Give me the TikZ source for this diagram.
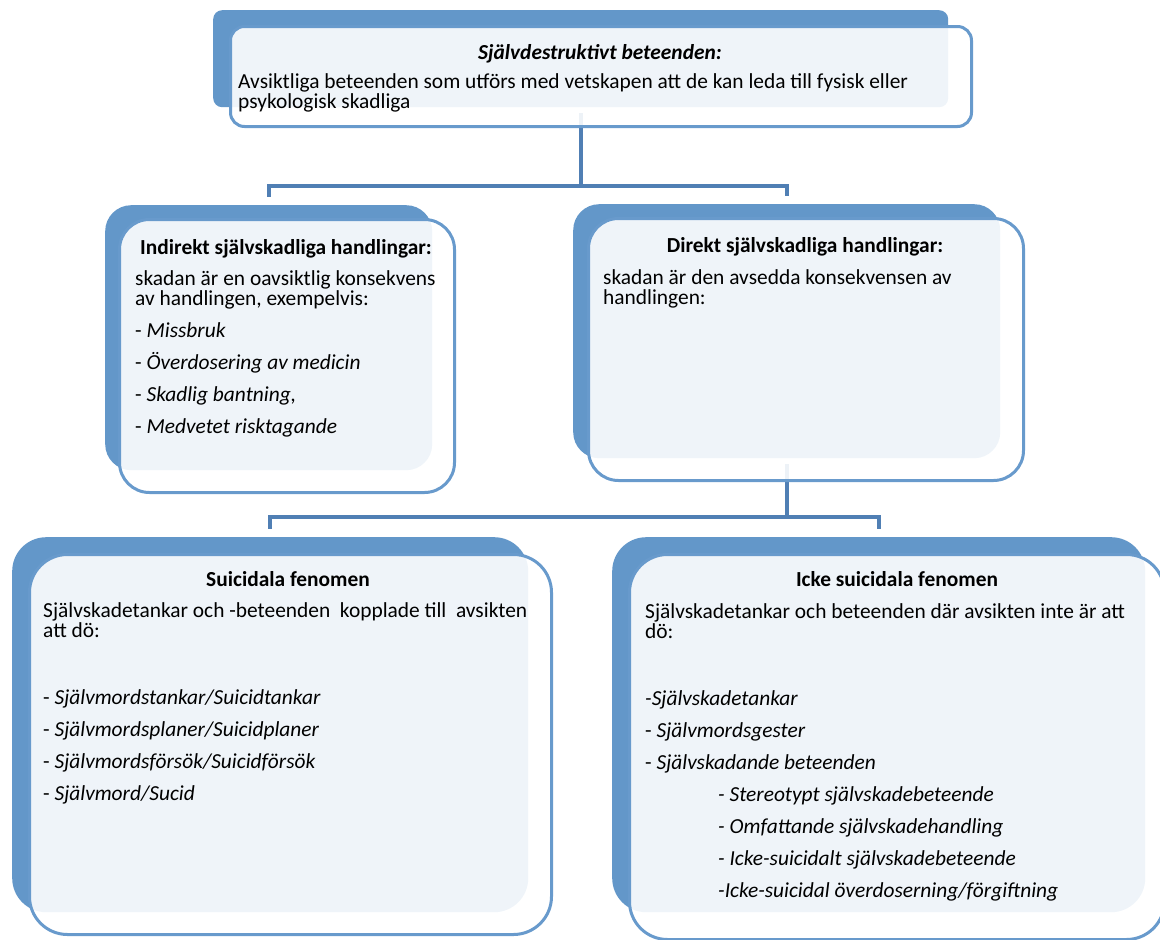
\documentclass[tikz,border=0pt]{standalone}
\usepackage{fontspec}
\setmainfont{Carlito}
\usetikzlibrary{positioning, calc}
\definecolor{backblue}{RGB}{99,151,201}
\definecolor{frameblue}{RGB}{104,154,204}
\definecolor{linkblue}{RGB}{80,127,180}
\setlength{\lineskiplimit}{-50pt}

\begin{document}
\begin{tikzpicture}[x=1pt, y=-1pt,
    backbox/.style={rectangle, fill=backblue, anchor=north west, inner sep=0pt},
    frontbox/.style={rectangle, draw=frameblue, line width=3pt, fill=white, fill opacity=0.9, draw opacity=1, anchor=north west, inner sep=0pt},
    link/.style={draw=linkblue, line width=4pt},
    title/.style={anchor=base, inner sep=0pt, font=\fontsize{21.4}{20.5}\selectfont\bfseries},
    body/.style={anchor=base west, inner sep=0pt, font=\fontsize{21.4}{20.5}\selectfont}
]
    \useasboundingbox (0,0) rectangle (1160,940);

    % Back shapes
    \node[backbox, rounded corners=9pt, minimum width=735pt, minimum height=97pt] (topback) at (213,10) {};
    \node[backbox, rounded corners=26pt, minimum width=327pt, minimum height=265pt] (indback) at (105,205) {};
    \node[backbox, rounded corners=26pt, minimum width=427pt, minimum height=254pt] (dirback) at (573,204) {};
    \node[backbox, rounded corners=34pt, minimum width=516pt, minimum height=375pt] (suiback) at (12,537) {};
    \node[backbox, rounded corners=34pt, minimum width=533pt, minimum height=375pt] (ickeback) at (612,537) {};

    % Connectors
    \draw[link] ([yshift=-6pt]topback.south) -- ++(0,73) -| ([yshift=8pt]indback.north);
    \draw[link] ([yshift=-6pt]topback.south) -- ++(0,73) -| ([yshift=8pt]dirback.north);
    \draw[link] ([yshift=-6pt]dirback.south) -- ++(0,53) -| ([yshift=8pt]suiback.north);
    \draw[link] ([yshift=-6pt]dirback.south) -- ++(0,53) -| ([yshift=8pt]ickeback.north);

    % Front shapes
    \node[frontbox, rounded corners=14pt, minimum width=741pt, minimum height=100pt] (topfront) at (229,25) {};
    \node[frontbox, rounded corners=30pt, minimum width=335pt, minimum height=273pt] (indfront) at (118,218) {};
    \node[frontbox, rounded corners=30pt, minimum width=435pt, minimum height=262pt] (dirfront) at (587,217) {};
    \node[frontbox, rounded corners=38pt, minimum width=522pt, minimum height=380pt] (suifront) at (28,553) {};
    \node[frontbox, rounded corners=38pt, minimum width=535pt, minimum height=385pt] (ickefront) at (628,553) {};

    % Självdestruktivt beteenden
    \node[title] (toptitle) at (600,59) {\itshape Självdestruktivt beteenden:};
    \node[body] (toptext) at (238,88) {\parbox[t]{720pt}{\raggedright
        Avsiktliga beteenden som utförs med vetskapen att de kan leda till fysisk eller\\
        psykologisk skadliga}};

    % Indirekt
    \node[title] (indtitle) at (286,254) {Indirekt självskadliga handlingar:};
    \node[body] (indtext) at (135,285) {\parbox[t]{320pt}{\raggedright
        skadan är en oavsiktlig konsekvens\\
        av handlingen, exempelvis:\\[11.5pt]
        - \textit{Missbruk}\\[11.5pt]
        - \textit{Överdosering av medicin}\\[11.5pt]
        - \textit{Skadlig bantning,}\\[11.5pt]
        - \textit{Medvetet risktagande}}};

    % Direkt
    \node[title] (dirtitle) at (805,252) {Direkt självskadliga handlingar:};
    \node[body] (dirtext) at (603,284) {\parbox[t]{410pt}{\raggedright
        skadan är den avsedda konsekvensen av\\
        handlingen:}};

    % Suicidala fenomen
    \node[title] (suititle) at (288,586) {Suicidala fenomen};
    \node[body] (suitext) at (43,617) {\parbox[t]{500pt}{\raggedright
        Självskadetankar och -beteenden\ \ kopplade till\ \ avsikten\\
        att dö:\\[46.5pt]
        - \textit{Självmordstankar/Suicidtankar}\\[11.5pt]
        - \textit{Självmordsplaner/Suicidplaner}\\[11.5pt]
        - \textit{Självmordsförsök/Suicidförsök}\\[11.5pt]
        - \textit{Självmord/Sucid}}};

    % Icke suicidala fenomen
    \node[title] (icketitle) at (897,586) {Icke suicidala fenomen};
    \node[body] (icketext) at (645,618) {\parbox[t]{510pt}{\raggedright
        Självskadetankar och beteenden där avsikten inte är att\\
        dö:\\[46.5pt]
        \textit{-Självskadetankar}\\[11.5pt]
        - \textit{Självmordsgester}\\[11.5pt]
        - \textit{Självskadande beteenden}\\[11.5pt]
        \hspace*{73pt}\textit{- Stereotypt självskadebeteende}\\[11.5pt]
        \hspace*{73pt}\textit{- Omfattande självskadehandling}\\[11.5pt]
        \hspace*{73pt}\textit{- Icke-suicidalt självskadebeteende}\\[11.5pt]
        \hspace*{73pt}\textit{-Icke-suicidal överdoserning/förgiftning}}};

\end{tikzpicture}
\end{document}
